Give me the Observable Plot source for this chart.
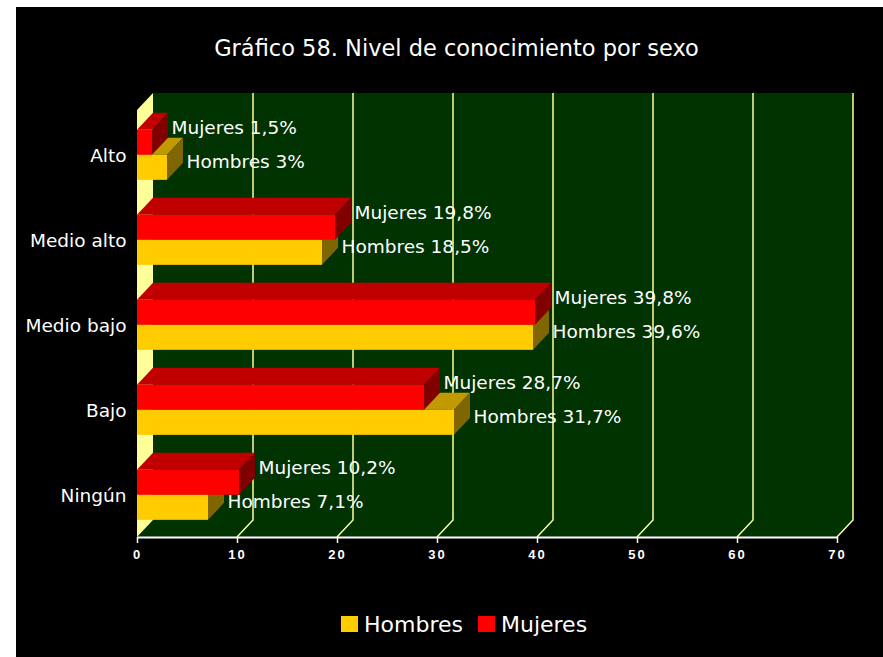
<!DOCTYPE html>
<html>
<head>
<meta charset="utf-8">
<script src="https://cdn.jsdelivr.net/npm/d3@7"></script>
<script src="https://cdn.jsdelivr.net/npm/@observablehq/plot@0.6"></script>
<style>
html, body { margin: 0; padding: 0; background: #fff; }
#chart { position: absolute; left: 16px; top: 7px; width: 867px; height: 650px; background: #000; overflow: hidden; font-family: "DejaVu Sans", sans-serif; }
#title { position: absolute; left: 7px; top: 27px; width: 867px; height: 28px; line-height: 28px; text-align: center; color: #fff; font-size: 22.5px; white-space: nowrap; }
#plot { position: absolute; left: 0; top: 70px; }
#legend { position: absolute; left: 325px; top: 603px; height: 28px; display: flex; align-items: center; color: #fff; font-size: 22px; white-space: nowrap; }
#legend .sw { display: inline-block; width: 17px; height: 16px; margin-right: 6px; }
#legend .item { display: flex; align-items: center; margin-right: 15px; }
</style>
</head>
<body>
<div id="chart">
  <div id="title"></div>
  <div id="plot"></div>
  <div id="legend"></div>
</div>
<script>
// ---- data ----
const titleText = "Gráfico 58. Nivel de conocimiento por sexo";
const categories = ["Alto", "Medio alto", "Medio bajo", "Bajo", "Ningún"];
const seriesNames = ["Hombres", "Mujeres"];
const hombres = [3, 18.5, 39.6, 31.7, 7.1];
const mujeres = [1.5, 19.8, 39.8, 28.7, 10.2];
const xTicks = [0, 10, 20, 30, 40, 50, 60, 70];

// ---- styles ----
const colors = {
  Hombres: {front: "#ffcc00", top: "#c09a00", side: "#806600"},
  Mujeres: {front: "#ff0000", top: "#c00000", side: "#800000"}
};
const wallColor = "#003300", sideWall = "#ffff99", gridColor = "#ffff99";
const DX = 16, DY = -17;
const W = 867, H = 508, ML = 121, MR = 46, MT = 33, MB = 48;

const fmt = v => String(v).replace(".", ",");
const rowsFor = (name, vals) => categories.map((c, i) => ({category: c, value: vals[i], label: `${name} ${fmt(vals[i])}%`}));
const hRows = rowsFor("Hombres", hombres);
const mRows = rowsFor("Mujeres", mujeres);

document.getElementById("title").textContent = titleText;

function bandOf(scales, dims) {
  const y = scales.y;
  if (y && typeof y.bandwidth === "function") return y.bandwidth();
  return (dims.height - dims.marginTop - dims.marginBottom) / categories.length;
}

function scaffold(index, scales, values, dims) {
  const x = scales.x;
  const x0 = x(xTicks[0]), x1 = x(xTicks[xTicks.length - 1]);
  const top = dims.marginTop, bottom = dims.height - dims.marginBottom;
  const g = d3.create("svg:g");
  g.append("rect").attr("x", x0 + DX).attr("y", top + DY).attr("width", x1 - x0).attr("height", bottom - top).attr("fill", wallColor);
  g.append("polygon").attr("points", [[x0, bottom], [x0 + DX, bottom + DY], [x1 + DX, bottom + DY], [x1, bottom]].join(" ")).attr("fill", wallColor);
  g.append("polygon").attr("points", [[x0, top], [x0 + DX, top + DY], [x0 + DX, bottom + DY], [x0, bottom]].join(" ")).attr("fill", sideWall);
  for (const v of xTicks.slice(1)) {
    const xv = x(v);
    g.append("polyline").attr("points", [[xv + DX, top + DY], [xv + DX, bottom + DY], [xv, bottom]].join(" "))
      .attr("fill", "none").attr("stroke", gridColor).attr("stroke-width", 1.5);
  }
  g.append("line").attr("x1", x0).attr("x2", x1).attr("y1", bottom + 0.5).attr("y2", bottom + 0.5).attr("stroke", "#fff").attr("stroke-width", 2);
  return g.node();
}

function box(col, f0, f1) {
  return function(index, scales, values, dims) {
    const bw = bandOf(scales, dims);
    const g = d3.create("svg:g");
    for (const i of index) {
      const xa = values.x1[i], xb = values.x2[i];
      const yt = values.y[i] + bw * f0, yb = values.y[i] + bw * f1;
      g.append("polygon").attr("points", [[xa, yt], [xb, yt], [xb + DX, yt + DY], [xa + DX, yt + DY]].join(" ")).attr("fill", col.top);
      g.append("polygon").attr("points", [[xb, yt], [xb + DX, yt + DY], [xb + DX, yb + DY], [xb, yb]].join(" ")).attr("fill", col.side);
      g.append("rect").attr("x", xa).attr("y", yt).attr("width", Math.max(0, xb - xa)).attr("height", yb - yt).attr("fill", col.front);
    }
    return g.node();
  };
}

const labelFont = "DejaVu Sans, sans-serif";

const plot = Plot.plot({
  width: W, height: H,
  marginLeft: ML, marginRight: MR, marginTop: MT, marginBottom: MB,
  style: {background: "transparent", color: "white", overflow: "visible"},
  x: {domain: [xTicks[0], xTicks[xTicks.length - 1]]},
  y: {type: "band", domain: categories, padding: 0},
  marks: [
    Plot.ruleX([0], {x: d => d, render: scaffold}),
    Plot.barX(hRows, {x1: 0, x2: "value", y: "category", render: box(colors.Hombres, 0.515, 0.81)}),
    Plot.barX(mRows, {x1: 0, x2: "value", y: "category", render: box(colors.Mujeres, 0.22, 0.515)}),
    Plot.text(hRows, {x: "value", y: "category", text: "label", textAnchor: "start", dx: DX + 3, dy: 8.5, fill: "white", fontSize: 18.5, fontFamily: labelFont}),
    Plot.text(mRows, {x: "value", y: "category", text: "label", textAnchor: "start", dx: DX + 3, dy: -26, fill: "white", fontSize: 18.5, fontFamily: labelFont}),
    Plot.axisX(xTicks, {anchor: "bottom", tickSize: 6, stroke: "white", strokeWidth: 1.5, text: null, label: null}),
    Plot.text(xTicks, {x: d => d, frameAnchor: "bottom", dy: 21, text: d => String(d), fill: "white", fontSize: 13, fontWeight: "bold", fontFamily: "Liberation Sans, Arial, sans-serif", textAnchor: "middle"}),
    Plot.axisY({anchor: "left", tickSize: 0, tickPadding: 11, fill: "white", fontSize: 18.5, fontFamily: labelFont, label: null, dy: 2})
  ]
});
plot.querySelectorAll("text").forEach(t => {
  if (t.getAttribute("font-weight") === "bold" || (t.parentNode && t.parentNode.getAttribute("font-weight") === "bold")) {
    t.style.letterSpacing = "2px";
  }
});
document.getElementById("plot").appendChild(plot);

const legend = document.getElementById("legend");
for (const name of seriesNames) {
  const item = document.createElement("span");
  item.className = "item";
  const sw = document.createElement("span");
  sw.className = "sw";
  sw.style.background = colors[name].front;
  const t = document.createElement("span");
  t.textContent = name;
  item.appendChild(sw); item.appendChild(t);
  legend.appendChild(item);
}
</script>
</body>
</html>
